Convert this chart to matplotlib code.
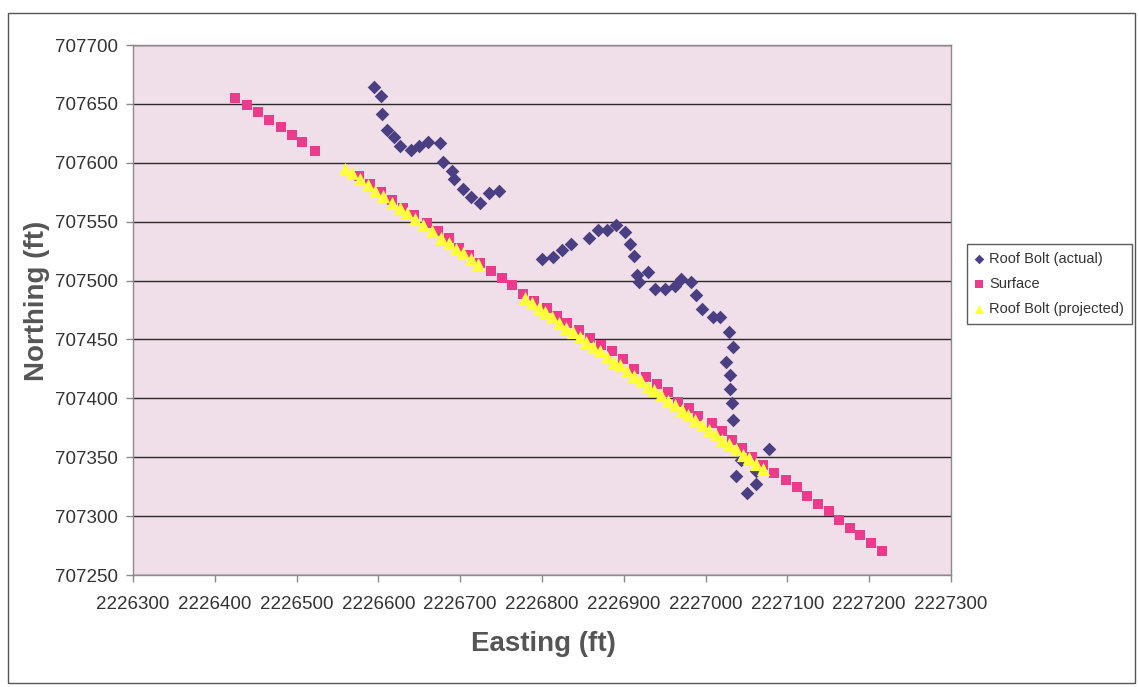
import matplotlib
matplotlib.use("Agg")
import matplotlib.pyplot as plt
from matplotlib.patches import Rectangle

plt.rcParams["font.family"] = ["Liberation Sans", "DejaVu Sans"]

# Roof bolt positions as surveyed underground (Easting, Northing in ft)
actual_e = [2226595, 2226603, 2226605, 2226610, 2226619, 2226627, 2226640, 2226650,
            2226661, 2226675, 2226679, 2226690, 2226693, 2226703, 2226713, 2226724,
            2226735, 2226747,
            2226800, 2226813, 2226825, 2226835, 2226858, 2226868, 2226880, 2226890,
            2226901, 2226908, 2226912, 2226916, 2226929, 2226919, 2226938, 2226950,
            2226962, 2226970, 2226982, 2226988, 2226996, 2227009, 2227018, 2227029,
            2227033, 2227025, 2227030, 2227030, 2227032, 2227034, 2227043, 2227037,
            2227051, 2227062, 2227062, 2227078]
actual_n = [707664, 707657, 707641, 707628, 707622, 707614, 707611, 707614,
            707618, 707617, 707601, 707593, 707586, 707578, 707571, 707566,
            707574, 707576,
            707518, 707520, 707526, 707531, 707536, 707543, 707543, 707547,
            707541, 707531, 707521, 707505, 707507, 707499, 707493, 707493,
            707495, 707501, 707499, 707488, 707476, 707469, 707469, 707456,
            707444, 707431, 707420, 707408, 707396, 707382, 707348, 707334,
            707320, 707327, 707338, 707357]

# Surface survey points
surface_e = [2226425, 2226439, 2226453, 2226466, 2226481, 2226494, 2226507, 2226522,
             2226576, 2226590, 2226603, 2226617, 2226630, 2226644, 2226659, 2226673,
             2226686, 2226699, 2226711, 2226724, 2226738, 2226751, 2226763, 2226777,
             2226790, 2226806, 2226818, 2226831, 2226845, 2226859, 2226872, 2226886,
             2226899, 2226912, 2226927, 2226941, 2226954, 2226966, 2226980, 2226991,
             2227008, 2227020, 2227032, 2227045, 2227057, 2227070, 2227084, 2227098,
             2227112, 2227124, 2227137, 2227151, 2227163, 2227177, 2227189, 2227202,
             2227216]
surface_n = [707655, 707649, 707643, 707636, 707630, 707624, 707618, 707610,
             707589, 707582, 707575, 707568, 707562, 707556, 707549, 707542,
             707536, 707528, 707522, 707515, 707508, 707502, 707496, 707489,
             707483, 707477, 707470, 707464, 707458, 707451, 707445, 707440,
             707433, 707425, 707418, 707412, 707405, 707397, 707392, 707385,
             707379, 707372, 707365, 707358, 707350, 707343, 707337, 707331,
             707325, 707317, 707310, 707304, 707297, 707290, 707284, 707277,
             707270]

# Roof bolts projected onto the surface line
proj_e = [2226559, 2226568, 2226578, 2226587, 2226596, 2226606, 2226617, 2226626,
          2226635, 2226645, 2226655, 2226666, 2226677, 2226686, 2226695, 2226703,
          2226713, 2226722,
          2226779, 2226788, 2226796, 2226804, 2226812, 2226821, 2226829, 2226838,
          2226846, 2226854, 2226862, 2226871, 2226879, 2226888, 2226895, 2226904,
          2226912, 2226921, 2226930, 2226937, 2226945, 2226954, 2226963, 2226971,
          2226978, 2226987, 2226996, 2227004, 2227013, 2227020, 2227029, 2227037,
          2227046, 2227053, 2227062, 2227070]
proj_n = [707595, 707591, 707586, 707581, 707576, 707572, 707566, 707562,
          707557, 707552, 707547, 707542, 707536, 707532, 707527, 707523,
          707518, 707514,
          707485, 707481, 707477, 707473, 707469, 707464, 707460, 707456,
          707452, 707448, 707444, 707440, 707435, 707431, 707428, 707423,
          707419, 707415, 707410, 707407, 707403, 707398, 707394, 707390,
          707386, 707382, 707377, 707373, 707369, 707365, 707361, 707357,
          707352, 707349, 707344, 707340]

x_ticks = [2226300, 2226400, 2226500, 2226600, 2226700, 2226800,
           2226900, 2227000, 2227100, 2227200, 2227300]
y_ticks = [707250, 707300, 707350, 707400, 707450, 707500,
           707550, 707600, 707650, 707700]

W, H = 1139, 687
fig = plt.figure(figsize=(W / 100, H / 100), dpi=100)
fig.patch.set_facecolor("white")

# outer chart frame
fig.patches.append(Rectangle((8 / W, 4 / H), 1127 / W, 670 / H, transform=fig.transFigure,
                             fill=False, edgecolor="#555555", linewidth=1.0))

ax = fig.add_axes([133 / W, 1 - 575 / H, 818 / W, 530 / H])
ax.set_facecolor("#F0DEE8")

ax.set_xlim(x_ticks[0], x_ticks[-1])
ax.set_ylim(y_ticks[0], y_ticks[-1])
ax.set_xticks(x_ticks)
ax.set_yticks(y_ticks)
ax.set_xticklabels([str(v) for v in x_ticks])
ax.set_yticklabels([str(v) for v in y_ticks])

ax.yaxis.grid(True, color="#2a2a2a", linewidth=1.0)
ax.xaxis.grid(False)
ax.set_axisbelow(True)

for s in ax.spines.values():
    s.set_color("#8a8a8a")
    s.set_linewidth(1.0)

ax.tick_params(axis="both", colors="#8a8a8a", labelcolor="#333333", labelsize=13.5,
               length=5, width=1.0, direction="out")
ax.tick_params(axis="x", pad=10)
ax.tick_params(axis="y", pad=6)

ax.scatter(actual_e, actual_n, marker="D", s=48, color="#4A3F82", linewidths=0,
           label="Roof Bolt (actual)", zorder=3)
ax.scatter(surface_e, surface_n, marker="s", s=52, color="#EC3A8C", linewidths=0,
           label="Surface", zorder=4)
ax.scatter(proj_e, proj_n, marker="^", s=90, color="#FFFF3A", linewidths=0,
           label="Roof Bolt (projected)", zorder=5)

ax.set_xlabel("Easting (ft)", fontsize=20, fontweight="bold", color="#555555")
ax.set_ylabel("Northing (ft)", fontsize=20, fontweight="bold", color="#555555")
ax.xaxis.set_label_coords(0.502, -0.105)
ax.yaxis.set_label_coords(-0.102, 0.517)

leg = fig.legend(loc="center left", bbox_to_anchor=(967 / W, 1 - 284 / H),
                 borderaxespad=0, fontsize=10.5, frameon=True, fancybox=False,
                 handlelength=0.5, handletextpad=0.45, labelspacing=0.75,
                 borderpad=0.55, markerscale=0.7, labelcolor="#333333")
leg.get_frame().set_edgecolor("#333333")
leg.get_frame().set_linewidth(1.0)

fig.savefig("out.png", dpi=100)
